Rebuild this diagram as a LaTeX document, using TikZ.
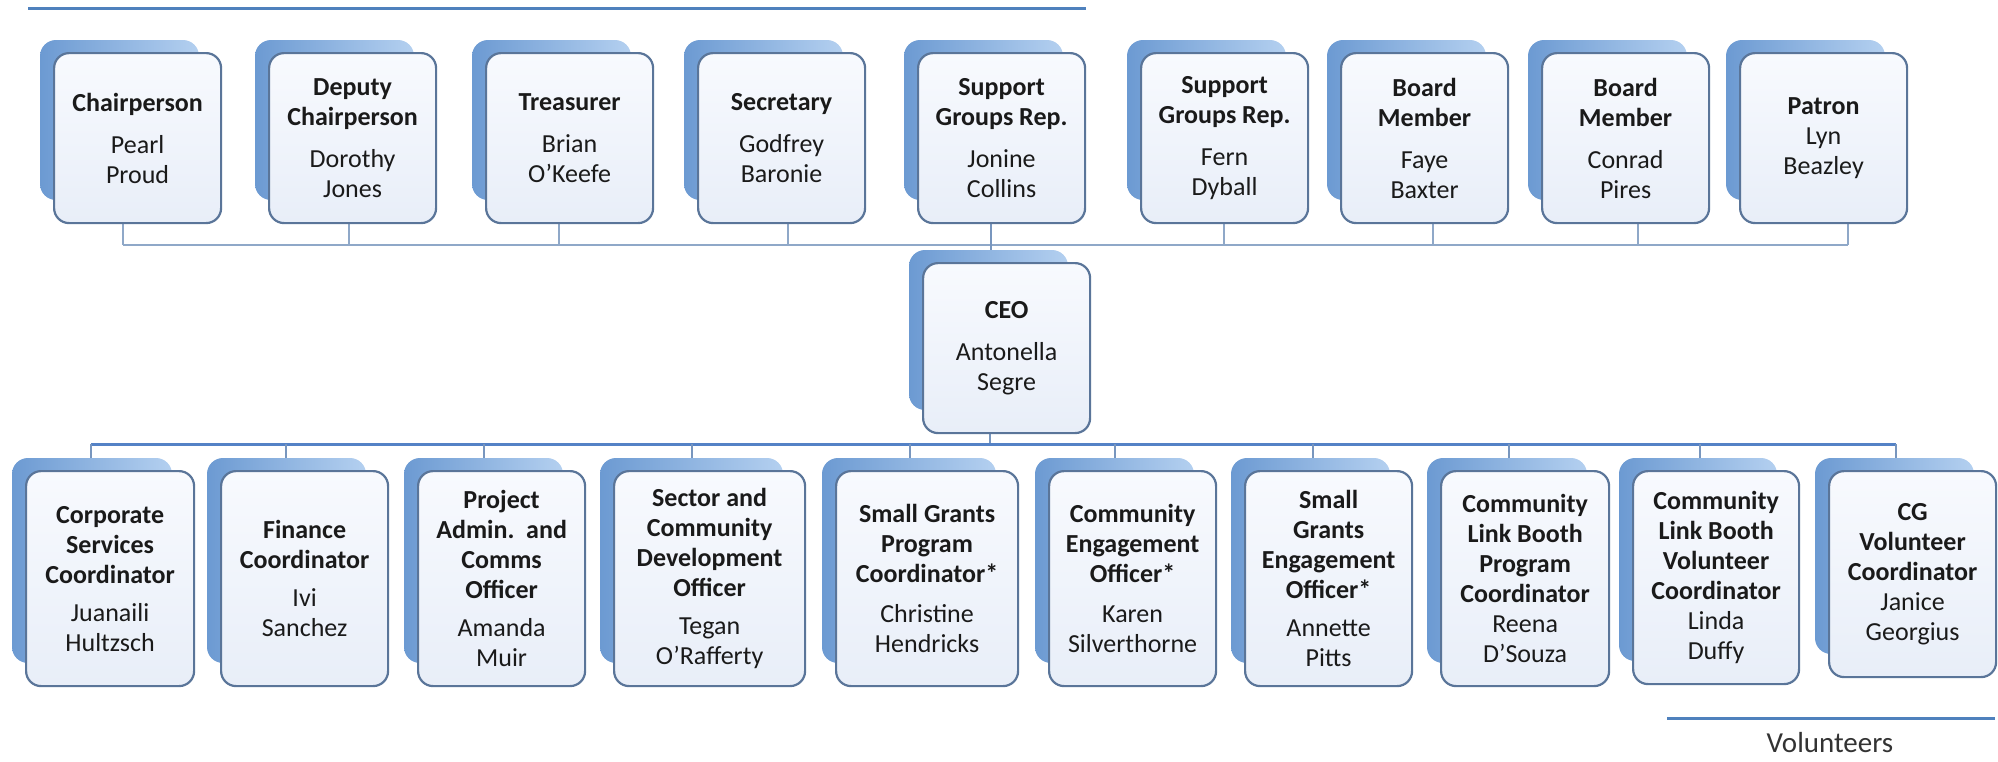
\documentclass[tikz,border=0pt]{standalone}
\usepackage{fontspec}
\setmainfont{Carlito}
\usetikzlibrary{calc}
\pgfdeclarelayer{background}
\pgfsetlayers{background,main}
\definecolor{boxborder}{HTML}{5A7599}
\definecolor{boxtop}{HTML}{F8FAFE}
\definecolor{boxbot}{HTML}{E8EEF8}
\definecolor{shL}{HTML}{6C9AD2}
\definecolor{shR}{HTML}{B4D0F0}
\definecolor{tconncol}{HTML}{8FA8C8}
\definecolor{bconncol}{HTML}{5482C6}
\definecolor{vconncol}{HTML}{7896BE}
\definecolor{linecol}{HTML}{4F81BD}
\definecolor{txt}{HTML}{1A1A1A}
\definecolor{voltxt}{HTML}{333333}
\tikzset{
  front/.style={draw=boxborder, line width=2.2pt, rounded corners=15pt,
    top color=boxtop, bottom color=boxbot, align=center, inner sep=2pt,
    font=\fontsize{26}{30}\selectfont, text=txt},
  shadowbox/.style={rounded corners=16pt, left color=shL, right color=shR},
  tconn/.style={draw=tconncol, line width=1.6pt},
  bconn/.style={draw=bconncol, line width=3pt},
  vconn/.style={draw=vconncol, line width=2pt},
  headline/.style={draw=linecol, line width=3pt},
}
% name, x, y, width, height, text
\newcommand{\orgcard}[6]{%
  \shade[shadowbox] (#2-13,#3-12) rectangle (#2+#4-21,#3+#5-22);
  \node[front, anchor=north west, minimum width=#4pt, minimum height=#5pt] (#1) at (#2,#3) {#6};
}
\newcommand{\ttl}[1]{\textbf{#1}}
\begin{document}
\begin{tikzpicture}[x=1pt,y=-1pt]
\useasboundingbox (0,0) rectangle (1998,761);
% header line
\coordinate (hl1) at (28,8);
\coordinate (hl2) at (1086,8);
\draw[headline] (hl1) -- (hl2);

% top row
\orgcard{chair}{53}{52}{167}{170}{\ttl{Chairperson}\\[12pt]Pearl\\Proud}
\orgcard{deputy}{268}{52}{167}{170}{\ttl{Deputy}\\\ttl{Chairperson}\\[12pt]Dorothy\\Jones}
\orgcard{treas}{485}{52}{167}{170}{\ttl{Treasurer}\\[12pt]Brian\\O’Keefe}
\orgcard{secr}{697}{52}{167}{170}{\ttl{Secretary}\\[12pt]Godfrey\\Baronie}
\orgcard{jonine}{917}{52}{167}{170}{\ttl{Support}\\\ttl{Groups Rep.}\\[12pt]Jonine\\Collins}
\orgcard{fern}{1140}{52}{167}{170}{\ttl{Support}\\\ttl{Groups Rep.}\\[12pt]Fern\\Dyball}
\orgcard{faye}{1340}{52}{167}{170}{\ttl{Board}\\\ttl{Member}\\[12pt]Faye\\Baxter}
\orgcard{conrad}{1541}{52}{167}{170}{\ttl{Board}\\\ttl{Member}\\[12pt]Conrad\\Pires}
\orgcard{patron}{1739}{52}{167}{170}{\ttl{Patron}\\Lyn\\Beazley}

% CEO
\orgcard{ceo}{922}{262}{167}{170}{\ttl{CEO}\\[12pt]Antonella\\Segre}

% bottom row
\orgcard{corp}{25}{470}{168}{215}{\ttl{Corporate}\\\ttl{Services}\\\ttl{Coordinator}\\[8pt]Juanaili\\Hultzsch}
\orgcard{fin}{220}{470}{167}{215}{\ttl{Finance}\\\ttl{Coordinator}\\[8pt]Ivi\\Sanchez}
\orgcard{proj}{417}{470}{167}{215}{\ttl{Project}\\\ttl{Admin.\ \ and}\\\ttl{Comms}\\\ttl{Officer}\\[8pt]Amanda\\Muir}
\orgcard{sector}{613}{470}{191}{215}{\ttl{Sector and}\\\ttl{Community}\\\ttl{Development}\\\ttl{Officer}\\[8pt]Tegan\\O’Rafferty}
\orgcard{sgp}{835}{470}{182}{215}{\ttl{Small Grants}\\\ttl{Program}\\\ttl{Coordinator*}\\[10pt]Christine\\Hendricks}
\orgcard{ce}{1048}{470}{167}{215}{\ttl{Community}\\\ttl{Engagement}\\\ttl{Officer*}\\[10pt]Karen\\Silverthorne}
\orgcard{sge}{1244}{470}{167}{215}{\ttl{Small}\\\ttl{Grants}\\\ttl{Engagement}\\\ttl{Officer*}\\[8pt]Annette\\Pitts}
\orgcard{clbp}{1440}{470}{168}{215}{\ttl{Community}\\\ttl{Link Booth}\\\ttl{Program}\\\ttl{Coordinator}\\Reena\\D’Souza}
\orgcard{clbv}{1632}{470}{166}{213}{\ttl{Community}\\\ttl{Link Booth}\\\ttl{Volunteer}\\\ttl{Coordinator}\\Linda\\Duffy}
\orgcard{cg}{1828}{470}{167}{206}{\ttl{CG}\\\ttl{Volunteer}\\\ttl{Coordinator}\\Janice\\Georgius}

% connector coordinates
\coordinate (t1) at (123,245);
\coordinate (t2) at (349,245);
\coordinate (t3) at (559,245);
\coordinate (t4) at (788,245);
\coordinate (t5) at (991,245);
\coordinate (t6) at (1224,245);
\coordinate (t7) at (1433,245);
\coordinate (t8) at (1638,245);
\coordinate (t9) at (1848,245);
\coordinate (cb) at (990,444);
\coordinate (b1) at (91,444);
\coordinate (b2) at (286,444);
\coordinate (b3) at (484,444);
\coordinate (b4) at (692,444);
\coordinate (b5) at (910,444);
\coordinate (b6) at (1115,444);
\coordinate (b7) at (1313,444);
\coordinate (b8) at (1509,444);
\coordinate (b9) at (1700,444);
\coordinate (b10) at (1896,444);

\begin{pgfonlayer}{background}
  \draw[tconn] (t1) -- (t9);
  \draw[tconn] (chair.south -| t1) -- (t1);
  \draw[tconn] (deputy.south -| t2) -- (t2);
  \draw[tconn] (treas.south -| t3) -- (t3);
  \draw[tconn] (secr.south -| t4) -- (t4);
  \draw[tconn] (fern.south -| t6) -- (t6);
  \draw[tconn] (faye.south -| t7) -- (t7);
  \draw[tconn] (conrad.south -| t8) -- (t8);
  \draw[tconn] (patron.south -| t9) -- (t9);
  \draw[vconn] (jonine.south -| t5) -- (ceo.north -| t5);
  \draw[vconn, line width=2.6pt] (ceo.south -| cb) -- (cb);
  \draw[bconn] (b1) -- (b10);
  \draw[vconn] (b1) -- (corp.north -| b1);
  \draw[vconn] (b2) -- (fin.north -| b2);
  \draw[vconn] (b3) -- (proj.north -| b3);
  \draw[vconn] (b4) -- (sector.north -| b4);
  \draw[vconn] (b5) -- (sgp.north -| b5);
  \draw[vconn] (b6) -- (ce.north -| b6);
  \draw[vconn] (b7) -- (sge.north -| b7);
  \draw[vconn] (b8) -- (clbp.north -| b8);
  \draw[vconn] (b9) -- (clbv.north -| b9);
  \draw[vconn] (b10) -- (cg.north -| b10);
\end{pgfonlayer}

% volunteers
\coordinate (v1) at (1667,718);
\coordinate (v2) at (1995,718);
\draw[headline] (v1) -- (v2);
\node[font=\fontsize{29}{34}\selectfont, text=voltxt, inner sep=1pt] (vol) at (1830,743) {Volunteers};
\end{tikzpicture}
\end{document}
